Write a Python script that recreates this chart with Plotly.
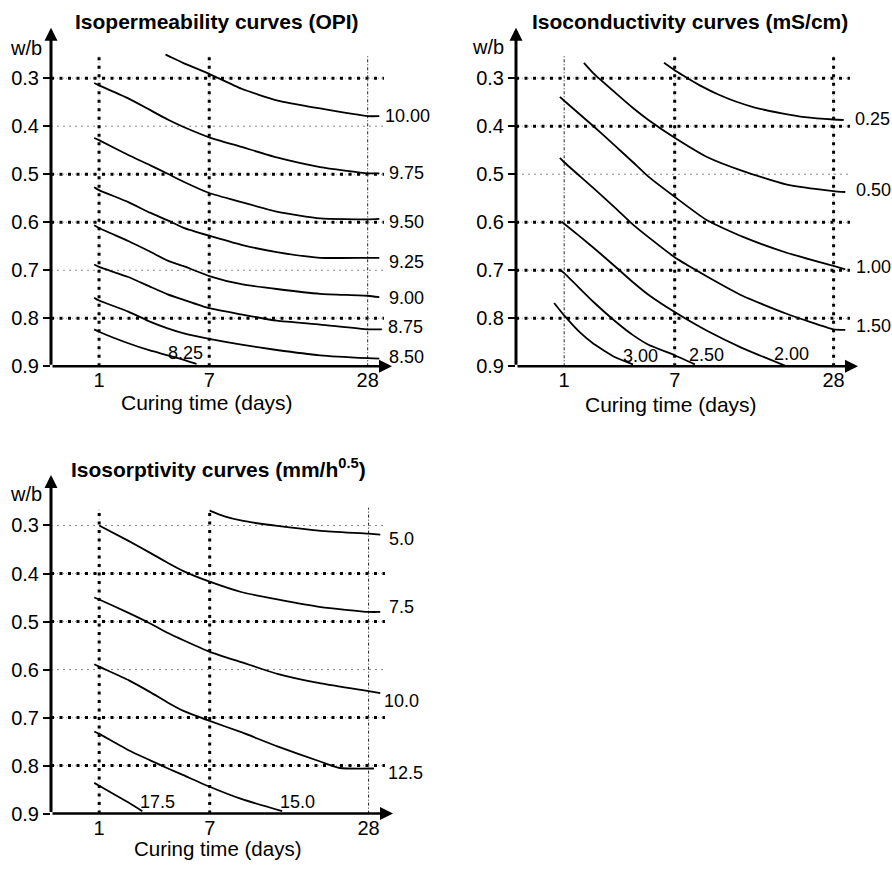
import numpy as np
import plotly.graph_objects as go

FONT = "Liberation Sans, Arial, sans-serif"
W, H = 892, 873

# Curing time is drawn on a power scale (days ** 0.43)
TIME_EXP = 0.43


def time_axis(days):
    return np.power(np.asarray(days, dtype=float), TIME_EXP)


day_ticks = [1, 7, 28]
day_tick_text = ["1", "7", "28"]
wb_ticks = [0.3, 0.4, 0.5, 0.6, 0.7, 0.8, 0.9]
wb_tick_text = ["0.3", "0.4", "0.5", "0.6", "0.7", "0.8", "0.9"]

# ---------------- Isopermeability curves (OPI) ----------------
opi_1000_days = [3.87, 4, 5, 7, 10, 14, 20, 28, 30.2]
opi_1000_wb = [0.251, 0.253, 0.268, 0.291, 0.322, 0.346, 0.363, 0.379, 0.379]
opi_0975_days = [0.87, 1, 2, 3, 4, 5, 7, 10, 14, 20, 28, 30.2]
opi_0975_wb = [0.310, 0.315, 0.342, 0.366, 0.386, 0.401, 0.423, 0.443, 0.465, 0.485, 0.498, 0.498]
opi_0950_days = [0.87, 1, 2, 3, 4, 5, 7, 10, 14, 20, 28, 30.2]
opi_0950_wb = [0.4245, 0.429, 0.460, 0.481, 0.499, 0.515, 0.539, 0.558, 0.578, 0.592, 0.594, 0.593]
opi_0925_days = [0.87, 1, 2, 3, 4, 5, 7, 10, 14, 20, 28, 30.2]
opi_0925_wb = [0.527, 0.533, 0.558, 0.580, 0.596, 0.611, 0.628, 0.647, 0.662, 0.674, 0.674, 0.674]
opi_0900_days = [0.87, 1, 2, 3, 4, 5, 7, 10, 14, 20, 28, 30.2]
opi_0900_wb = [0.606, 0.612, 0.639, 0.661, 0.680, 0.691, 0.712, 0.729, 0.739, 0.749, 0.753, 0.756]
opi_0875_days = [0.87, 1, 2, 3, 4, 5, 7, 10, 14, 20, 28, 30.7]
opi_0875_wb = [0.688, 0.693, 0.714, 0.734, 0.750, 0.761, 0.779, 0.792, 0.805, 0.813, 0.823, 0.823]
opi_0850_days = [0.87, 1, 2, 3, 4, 5, 7, 10, 14, 20, 28, 30.2]
opi_0850_wb = [0.757, 0.763, 0.786, 0.807, 0.821, 0.831, 0.843, 0.855, 0.866, 0.877, 0.883, 0.884]
opi_0825_days = [0.87, 1, 2, 3, 4, 5, 5.98]
opi_0825_wb = [0.823, 0.828, 0.852, 0.867, 0.877, 0.886, 0.895]

# ---------------- Isoconductivity curves (mS/cm) ----------------
cond_025_days = [6.14, 7.03, 8.2, 9.47, 11.2, 13.1, 15.6, 19.4, 23.0, 28, 29.9]
cond_025_wb = [0.268, 0.284, 0.301, 0.317, 0.334, 0.348, 0.361, 0.373, 0.381, 0.386, 0.387]
cond_050_days = [1.63, 2, 3, 4, 5, 7, 10, 14, 20, 28, 30.2]
cond_050_wb = [0.268, 0.290, 0.330, 0.362, 0.387, 0.424, 0.464, 0.493, 0.521, 0.535, 0.537]
cond_100_days = [0.885, 1, 2, 3, 4, 5, 7, 10, 14, 20, 28, 30.2]
cond_100_wb = [0.339, 0.347, 0.400, 0.441, 0.475, 0.505, 0.547, 0.596, 0.630, 0.663, 0.691, 0.698]
cond_150_days = [0.885, 1, 2, 3, 4, 5, 7, 10, 14, 20, 28, 30.2]
cond_150_wb = [0.466, 0.475, 0.529, 0.570, 0.605, 0.631, 0.673, 0.713, 0.753, 0.790, 0.823, 0.824]
cond_200_days = [0.93, 1, 2, 3, 4, 5, 7, 10, 14, 20.1]
cond_200_wb = [0.599, 0.603, 0.653, 0.692, 0.725, 0.751, 0.787, 0.826, 0.862, 0.900]
cond_250_days = [0.885, 1, 2, 3, 4, 5, 7, 8.8]
cond_250_wb = [0.699, 0.706, 0.766, 0.806, 0.835, 0.855, 0.877, 0.896]
cond_300_days = [0.745, 1, 1.5, 2, 3, 4.0]
cond_300_wb = [0.768, 0.794, 0.830, 0.853, 0.881, 0.896]

# ---------------- Isosorptivity curves (mm/h^0.5) ----------------
sorp_050_days = [7, 8.3, 10, 14, 20, 28, 30.2]
sorp_050_wb = [0.269, 0.281, 0.290, 0.301, 0.311, 0.317, 0.319]
sorp_075_days = [1, 2, 3, 4, 5, 7, 10, 14, 20, 28, 30.2]
sorp_075_wb = [0.300, 0.332, 0.357, 0.378, 0.395, 0.417, 0.439, 0.454, 0.470, 0.480, 0.480]
sorp_100_days = [0.87, 1, 2, 3, 4, 5, 7, 10, 14, 20, 28, 30.2]
sorp_100_wb = [0.450, 0.454, 0.482, 0.504, 0.524, 0.539, 0.563, 0.585, 0.609, 0.629, 0.645, 0.649]
sorp_125_days = [0.87, 1, 2, 3, 4, 5, 7, 10, 14, 20, 23, 29.0]
sorp_125_wb = [0.589, 0.594, 0.622, 0.647, 0.669, 0.686, 0.707, 0.731, 0.760, 0.792, 0.805, 0.806]
sorp_150_days = [0.87, 1, 2, 3, 4, 5, 7, 10, 14.6]
sorp_150_wb = [0.729, 0.734, 0.768, 0.789, 0.806, 0.820, 0.844, 0.870, 0.895]
sorp_175_days = [0.87, 1, 2, 2.61]
sorp_175_wb = [0.836, 0.842, 0.877, 0.895]


def px_x(px):
    return px / W


def px_y(py):
    return 1 - py / H


# Each curve: (level, days, w/b, label placement (anchor, dx, dy) in pixels; dy downward)
panels = [
    dict(
        xa="x", ya="y",
        title="<b>Isopermeability curves (OPI)</b>",
        dom_x=(51, 392), dom_y=(28, 371),
        title_pos=(217, 21.7), wb_pos=(44, 49), xtitle_pos=(207, 408), xtitle_size=21,
        fmt="{:.2f}",
        heavy_wb=[0.3, 0.5, 0.6, 0.8], heavy_days=[1, 7],
        grid_top=0.252,
        curves=[
            (10.00, opi_1000_days, opi_1000_wb, ("left", 5, 0)),
            (9.75, opi_0975_days, opi_0975_wb, ("left", 9, 0)),
            (9.50, opi_0950_days, opi_0950_wb, ("left", 9, 3)),
            (9.25, opi_0925_days, opi_0925_wb, ("left", 9, 4)),
            (9.00, opi_0900_days, opi_0900_wb, ("left", 9, 1)),
            (8.75, opi_0875_days, opi_0875_wb, ("left", 5, -2)),
            (8.50, opi_0850_days, opi_0850_wb, ("left", 9, -2)),
            (8.25, opi_0825_days, opi_0825_wb, ("center", -11, -11)),
        ],
    ),
    dict(
        xa="x2", ya="y2",
        title="<b>Isoconductivity curves (mS/cm)</b>",
        dom_x=(516, 858), dom_y=(28, 371),
        title_pos=(690, 21.7), wb_pos=(506, 47.5), xtitle_pos=(671, 410), xtitle_size=21,
        fmt="{:.2f}",
        heavy_wb=[0.3, 0.4, 0.6, 0.7, 0.8], heavy_days=[7, 28],
        grid_top=0.252,
        curves=[
            (0.25, cond_025_days, cond_025_wb, ("left", 10, -1)),
            (0.50, cond_050_days, cond_050_wb, ("left", 10, -2)),
            (1.00, cond_100_days, cond_100_wb, ("left", 10, -2)),
            (1.50, cond_150_days, cond_150_wb, ("left", 10, -4)),
            (2.00, cond_200_days, cond_200_wb, ("center", 5, -12)),
            (2.50, cond_250_days, cond_250_wb, ("center", 12, -9)),
            (3.00, cond_300_days, cond_300_wb, ("center", 7, -8)),
        ],
    ),
    dict(
        xa="x3", ya="y3",
        title="<b>Isosorptivity curves (mm/h<sup>0.5</sup>)</b>",
        dom_x=(51, 393), dom_y=(481, 824),
        title_pos=(218, 473.7), wb_pos=(44, 500), xtitle_pos=(217, 859), xtitle_size=20.5,
        fmt="{:.1f}",
        heavy_wb=[0.4, 0.5, 0.7, 0.8], heavy_days=[1, 7],
        grid_top=0.263,
        curves=[
            (5.0, sorp_050_days, sorp_050_wb, ("left", 8, 4)),
            (7.5, sorp_075_days, sorp_075_wb, ("left", 8, -5)),
            (10.0, sorp_100_days, sorp_100_wb, ("left", 3, 8)),
            (12.5, sorp_125_days, sorp_125_wb, ("left", 13, 5)),
            (15.0, sorp_150_days, sorp_150_wb, ("center", 15, -9)),
            (17.5, sorp_175_days, sorp_175_wb, ("center", 15, -9)),
        ],
    ),
]

X_RANGE_DAYS = (0.14, 32.7)
WB_RANGE = (0.9, 0.1947)
GRID_RIGHT_DAYS = 31.1

fig = go.Figure()
shapes = []
annotations = []
layout_axes = {}

for i, p in enumerate(panels):
    xa, ya = p["xa"], p["ya"]
    xr = [float(v) for v in time_axis(X_RANGE_DAYS)]
    sfx = "" if i == 0 else str(i + 1)
    layout_axes["xaxis" + sfx] = dict(
        domain=[px_x(p["dom_x"][0]), px_x(p["dom_x"][1])],
        range=xr, anchor=ya, showgrid=False, zeroline=False, showline=False,
        tickmode="array", tickvals=list(time_axis(day_ticks)), ticktext=day_tick_text,
        ticks="", tickfont=dict(family=FONT, size=20, color="black"),
    )
    layout_axes["yaxis" + sfx] = dict(
        domain=[px_y(p["dom_y"][1]), px_y(p["dom_y"][0])],
        range=list(WB_RANGE), anchor=xa, showgrid=False, zeroline=False, showline=False,
        tickmode="array", tickvals=wb_ticks, ticktext=wb_tick_text,
        ticks="outside", ticklen=7, tickwidth=1.5, tickcolor="black",
        tickfont=dict(family=FONT, size=20, color="black"),
    )

    # grid lines: heavy dotted or light dotted
    x_right = float(time_axis(GRID_RIGHT_DAYS))
    for v in wb_ticks[:-1]:
        if v in p["heavy_wb"]:
            shapes.append(dict(type="line", xref=xa, yref=ya, x0=xr[0], x1=x_right, y0=v, y1=v,
                               line=dict(color="#aaaaaa", width=1, dash="1px,2px"), layer="below"))
            shapes.append(dict(type="line", xref=xa, yref=ya, x0=xr[0], x1=x_right, y0=v, y1=v,
                               line=dict(color="black", width=3, dash="3px,5.5px"), layer="below"))
        else:
            shapes.append(dict(type="line", xref=xa, yref=ya, x0=xr[0], x1=x_right, y0=v, y1=v,
                               line=dict(color="#8a8a8a", width=1, dash="2px,4px"), layer="below"))
    for d in day_ticks:
        xv = float(time_axis(d))
        if d in p["heavy_days"]:
            shapes.append(dict(type="line", xref=xa, yref=ya, x0=xv, x1=xv, y0=0.9, y1=p["grid_top"],
                               line=dict(color="#aaaaaa", width=1, dash="1px,2px"), layer="below"))
            shapes.append(dict(type="line", xref=xa, yref=ya, x0=xv, x1=xv, y0=0.9, y1=p["grid_top"],
                               line=dict(color="black", width=3, dash="3px,5.5px"), layer="below"))
        else:
            shapes.append(dict(type="line", xref=xa, yref=ya, x0=xv, x1=xv, y0=0.9, y1=p["grid_top"],
                               line=dict(color="#222222", width=1, dash="3px,2px,1px,2px"), layer="below"))

    # contour curves and their level labels
    for level, days, wb, (anchor, dx, dy) in p["curves"]:
        xs = time_axis(days)
        fig.add_trace(go.Scatter(
            x=xs, y=wb, mode="lines", xaxis=xa, yaxis=ya,
            line=dict(color="black", width=1.8, shape="spline", smoothing=0.5),
            showlegend=False, hoverinfo="skip",
        ))
        annotations.append(dict(
            xref=xa, yref=ya, x=float(xs[-1]), y=wb[-1], text=p["fmt"].format(level),
            showarrow=False, xanchor=anchor, yanchor="middle", xshift=dx, yshift=-dy,
            font=dict(family=FONT, size=18, color="black"), borderpad=0,
        ))

    # axes with arrowheads
    annotations.append(dict(
        xref=xa, yref=ya, x=xr[0], y=WB_RANGE[1], axref=xa, ayref=ya, ax=xr[0], ay=0.9,
        showarrow=True, arrowhead=2, arrowwidth=3, arrowsize=0.87, arrowcolor="black",
        standoff=0, text="",
    ))
    annotations.append(dict(
        xref=xa, yref=ya, x=xr[1], y=0.9, axref=xa, ayref=ya, ax=xr[0], ay=0.9,
        showarrow=True, arrowhead=2, arrowwidth=2.5, arrowsize=1.04, arrowcolor="black",
        standoff=0, text="",
    ))

    # titles
    annotations.append(dict(
        xref="paper", yref="paper", x=px_x(p["title_pos"][0]), y=px_y(p["title_pos"][1]),
        text=p["title"], showarrow=False, xanchor="center", yanchor="middle",
        font=dict(family=FONT, size=21, color="black"),
    ))
    annotations.append(dict(
        xref="paper", yref="paper", x=px_x(p["wb_pos"][0]), y=px_y(p["wb_pos"][1]),
        text="w/b", showarrow=False, xanchor="right", yanchor="middle",
        font=dict(family=FONT, size=20, color="black"),
    ))
    annotations.append(dict(
        xref="paper", yref="paper", x=px_x(p["xtitle_pos"][0]), y=px_y(p["xtitle_pos"][1]),
        text="Curing time (days)", showarrow=False, xanchor="center", yanchor="middle",
        font=dict(family=FONT, size=p["xtitle_size"], color="black"), borderpad=0,
    ))

fig.update_layout(
    width=W, height=H,
    margin=dict(l=0, r=0, t=0, b=0),
    paper_bgcolor="white", plot_bgcolor="white",
    showlegend=False,
    shapes=shapes, annotations=annotations,
    font=dict(family=FONT, color="black"),
    **layout_axes,
)

fig.write_html("out.html")
